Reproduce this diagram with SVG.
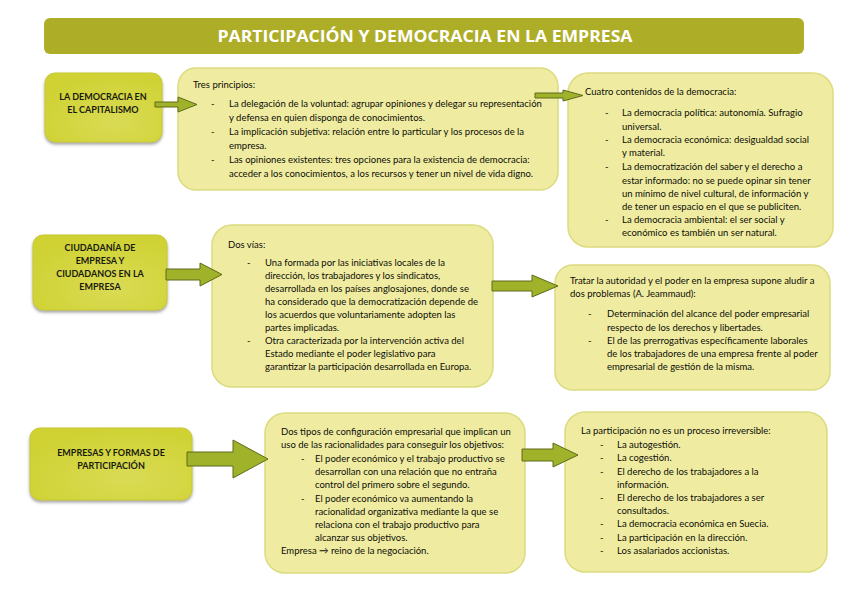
<svg xmlns="http://www.w3.org/2000/svg" width="848" height="599" viewBox="0 0 848 599">
<defs>
<style>
.t{font-family:Lato,"Open Sans","DejaVu Sans",sans-serif;font-size:9.5px;fill:#0d0d05;}
.h{font-family:Lato,"Open Sans","DejaVu Sans",sans-serif;font-size:9px;font-weight:bold;fill:#1a1a10;text-anchor:middle;}
.title{font-family:"Open Sans",Lato,sans-serif;font-size:16.5px;font-weight:bold;fill:#ffffff;text-anchor:middle;}
.lb{fill:url(#lg);stroke:#c7c92e;stroke-width:1;filter:url(#sh);}
.cb{fill:#efeca2;stroke:#dcdb80;stroke-width:1.5;}
.arr{fill:#9fb22a;stroke:#5e6a18;stroke-width:1;}
</style>
<radialGradient id="lg" cx="0.6" cy="0.7" r="0.7">
<stop offset="0" stop-color="#dadb55"/>
<stop offset="1" stop-color="#cfd232"/>
</radialGradient>
<filter id="sh" x="-10%" y="-10%" width="120%" height="130%">
<feDropShadow dx="0" dy="2" stdDeviation="1.5" flood-color="#555" flood-opacity="0.55"/>
</filter>
</defs>
<rect width="848" height="599" fill="#ffffff"/>

<g id="title">
<rect x="44" y="18" width="760" height="36" rx="6" fill="#aead27"/>
<text class="title" x="425" y="42" textLength="415" lengthAdjust="spacingAndGlyphs">PARTICIPACIÓN Y DEMOCRACIA EN LA EMPRESA</text>
</g>

<g id="n-democracia-capitalismo">
<rect class="lb" x="45" y="73" width="117" height="69" rx="10"/>
<text class="h" x="103" y="100">LA DEMOCRACIA EN</text>
<text class="h" x="103" y="113">EL CAPITALISMO</text>
</g>

<g id="n-tres-principios">
<rect class="cb" x="178" y="68" width="380" height="122" rx="18"/>
<text class="t" x="193" y="88">Tres principios:</text>
<text class="t" x="211" y="107">-</text>
<text class="t" x="229" y="107">La delegación de la voluntad: agrupar opiniones y delegar su representación</text>
<text class="t" x="229" y="121">y defensa en quien disponga de conocimientos.</text>
<text class="t" x="211" y="135">-</text>
<text class="t" x="229" y="135">La implicación subjetiva: relación entre lo particular y los procesos de la</text>
<text class="t" x="229" y="149">empresa.</text>
<text class="t" x="211" y="163">-</text>
<text class="t" x="229" y="163">Las opiniones existentes: tres opciones para la existencia de democracia:</text>
<text class="t" x="229" y="177">acceder a los conocimientos, a los recursos y tener un nivel de vida digno.</text>
</g>

<g id="n-cuatro-contenidos">
<rect class="cb" x="568" y="73" width="265" height="174" rx="20"/>
<text class="t" x="585" y="95">Cuatro contenidos de la democracia:</text>
<text class="t" x="605" y="116">-</text>
<text class="t" x="622" y="116">La democracia política: autonomía. Sufragio</text>
<text class="t" x="622" y="130">universal.</text>
<text class="t" x="605" y="143">-</text>
<text class="t" x="622" y="143">La democracia económica: desigualdad social</text>
<text class="t" x="622" y="156">y material.</text>
<text class="t" x="605" y="170">-</text>
<text class="t" x="622" y="170">La democratización del saber y el derecho a</text>
<text class="t" x="622" y="184">estar informado: no se puede opinar sin tener</text>
<text class="t" x="622" y="197">un mínimo de nivel cultural, de información y</text>
<text class="t" x="622" y="210">de tener un espacio en el que se publiciten.</text>
<text class="t" x="605" y="223">-</text>
<text class="t" x="622" y="223">La democracia ambiental: el ser social y</text>
<text class="t" x="622" y="236">económico es también un ser natural.</text>
</g>

<g id="n-ciudadania">
<rect class="lb" x="33" y="235" width="134" height="75" rx="10"/>
<text class="h" x="100" y="251">CIUDADANÍA DE</text>
<text class="h" x="100" y="264">EMPRESA Y</text>
<text class="h" x="100" y="277">CIUDADANOS EN LA</text>
<text class="h" x="100" y="290">EMPRESA</text>
</g>

<g id="n-dos-vias">
<rect class="cb" x="212" y="225" width="281" height="162" rx="20"/>
<text class="t" x="228" y="248">Dos vías:</text>
<text class="t" x="247" y="266">-</text>
<text class="t" x="265" y="266">Una formada por las iniciativas locales de la</text>
<text class="t" x="265" y="279">dirección, los trabajadores y los sindicatos,</text>
<text class="t" x="265" y="292">desarrollada en los países anglosajones, donde se</text>
<text class="t" x="265" y="305">ha considerado que la democratización depende de</text>
<text class="t" x="265" y="318">los acuerdos que voluntariamente adopten las</text>
<text class="t" x="265" y="331">partes implicadas.</text>
<text class="t" x="247" y="344">-</text>
<text class="t" x="265" y="344">Otra caracterizada por la intervención activa del</text>
<text class="t" x="265" y="357">Estado mediante el poder legislativo para</text>
<text class="t" x="265" y="370">garantizar la participación desarrollada en Europa.</text>
</g>

<g id="n-autoridad-poder">
<rect class="cb" x="555" y="265" width="275" height="125" rx="18"/>
<text class="t" x="570" y="284">Tratar la autoridad y el poder en la empresa supone aludir a</text>
<text class="t" x="570" y="297">dos problemas (A. Jeammaud):</text>
<text class="t" x="588" y="317">-</text>
<text class="t" x="607" y="317">Determinación del alcance del poder empresarial</text>
<text class="t" x="607" y="331">respecto de los derechos y libertades.</text>
<text class="t" x="588" y="344">-</text>
<text class="t" x="607" y="344">El de las prerrogativas específicamente laborales</text>
<text class="t" x="607" y="357">de los trabajadores de una empresa frente al poder</text>
<text class="t" x="607" y="370">empresarial de gestión de la misma.</text>
</g>

<g id="n-empresas-formas">
<rect class="lb" x="30" y="428" width="162" height="72" rx="10"/>
<text class="h" x="111" y="456">EMPRESAS Y FORMAS DE</text>
<text class="h" x="111" y="469">PARTICIPACIÓN</text>
</g>

<g id="n-dos-tipos">
<rect class="cb" x="265" y="413" width="260" height="160" rx="20"/>
<text class="t" x="281" y="435">Dos tipos de configuración empresarial que implican un</text>
<text class="t" x="281" y="448">uso de las racionalidades para conseguir los objetivos:</text>
<text class="t" x="301" y="462">-</text>
<text class="t" x="315" y="462">El poder económico y el trabajo productivo se</text>
<text class="t" x="315" y="475">desarrollan con una relación que no entraña</text>
<text class="t" x="315" y="488">control del primero sobre el segundo.</text>
<text class="t" x="301" y="502">-</text>
<text class="t" x="315" y="502">El poder económico va aumentando la</text>
<text class="t" x="315" y="515">racionalidad organizativa mediante la que se</text>
<text class="t" x="315" y="528">relaciona con el trabajo productivo para</text>
<text class="t" x="315" y="541">alcanzar sus objetivos.</text>
<text class="t" x="281" y="554">Empresa → reino de la negociación.</text>
</g>

<g id="n-participacion">
<rect class="cb" x="565" y="412" width="262" height="160" rx="20"/>
<text class="t" x="581" y="434">La participación no es un proceso irreversible:</text>
<text class="t" x="600" y="448">-</text>
<text class="t" x="617" y="448">La autogestión.</text>
<text class="t" x="600" y="461">-</text>
<text class="t" x="617" y="461">La cogestión.</text>
<text class="t" x="600" y="475">-</text>
<text class="t" x="617" y="475">El derecho de los trabajadores a la</text>
<text class="t" x="617" y="488">información.</text>
<text class="t" x="600" y="501">-</text>
<text class="t" x="617" y="501">El derecho de los trabajadores a ser</text>
<text class="t" x="617" y="514">consultados.</text>
<text class="t" x="600" y="527">-</text>
<text class="t" x="617" y="527">La democracia económica en Suecia.</text>
<text class="t" x="600" y="541">-</text>
<text class="t" x="617" y="541">La participación en la dirección.</text>
<text class="t" x="600" y="554">-</text>
<text class="t" x="617" y="554">Los asalariados accionistas.</text>
</g>

<g id="connectors">
<polygon class="arr" points="155,102 178,102 178,97 197,104.5 178,112 178,107 155,107"/>
<polygon class="arr" points="535,93 563,93 563,90 583,95.5 563,101 563,98 535,98"/>
<polygon class="arr" points="166,269 200,269 200,263 222,274.5 200,286 200,280 166,280"/>
<polygon class="arr" points="492,281 532,281 532,275 558,286 532,297 532,291 492,291"/>
<polygon class="arr" points="187,452 233,452 233,440 268,459 233,478 233,466 187,466"/>
<polygon class="arr" points="522,449 553,449 553,443 578,455 553,467 553,461 522,461"/>
</g>
</svg>
